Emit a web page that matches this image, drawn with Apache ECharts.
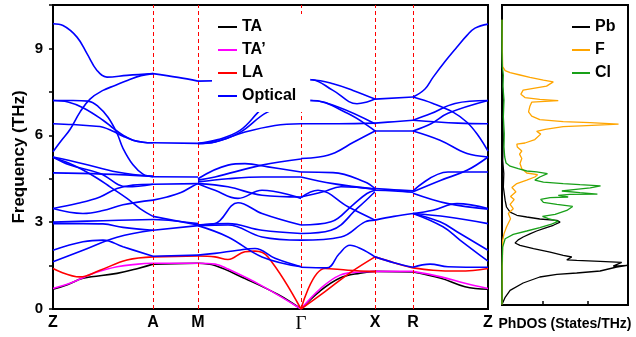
<!DOCTYPE html>
<html><head><meta charset="utf-8">
<script src="https://cdn.jsdelivr.net/npm/echarts@6/dist/echarts.min.js"></script>
<style>html,body{margin:0;padding:0;background:#fff}#c{width:636px;height:337px}</style>
</head><body><div id="c"></div>
<script>
// high-symmetry path positions and labels
const kTicks = [0, 100, 145, 248, 322, 360, 435];
const kLabels = ['Z', 'A', 'M', 'Γ', 'X', 'R', 'Z'];
const freqMax = 10.5;
const dosTicks = [0.9, 1.9];

// acoustic branches along full path [k, THz]
const taBand = [[0,0.68],[15,0.85],[30,1.06],[64,1.23],[85,1.4],[100,1.55],[145,1.58],[162,1.5],[192,1.05],[225,0.5],[248,0],[267,0.62],[287,1.07],[307,1.24],[322,1.3],[360,1.28],[388,1.06],[412,0.77],[435,0.68]];
const ta2Band = [[0,0.71],[17,0.89],[30,1.08],[40,1.23],[64,1.46],[85,1.55],[100,1.58],[145,1.58],[162,1.55],[175,1.38],[209,0.8],[248,0],[267,0.69],[287,1.17],[307,1.28],[322,1.3],[360,1.3],[388,1.11],[412,0.89],[435,0.71]];
const laBand = [[0,1.4],[27,1.11],[47,1.34],[74,1.69],[100,1.8],[145,1.83],[162,1.8],[175,1.71],[192,1.98],[202,2.0],[215,1.8],[248,0],[272,1.4],[295,1.34],[322,1.29]];
const laBand2 = [[248,0],[272,0.6],[297,1.25],[322,1.8],[341,1.6],[360,1.42],[380,1.34],[404,1.31],[420,1.33],[435,1.4]];

// optical branches, per path segment
const opticalZA = [
 [[0,9.85],[10,9.79],[24,9.39],[34,8.82],[44,8.24],[54,8.01],[74,8.07],[100,8.13]],
 [[0,5.43],[8,5.8],[17,6.2],[27,6.8],[37,7.25],[50,7.55],[62,7.72],[75,7.9],[88,8.06],[100,8.13]],
 [[0,7.2],[20,7.2],[35,7.18],[45,7.0],[55,6.62],[64,6.07],[70,5.55],[80,4.98],[90,4.66],[100,4.57]],
 [[0,7.2],[15,7.15],[30,6.95],[50,6.52],[60,6.25],[70,6.0],[80,5.83],[90,5.76],[100,5.74]],
 [[0,6.4],[20,6.37],[40,6.32],[50,6.28],[60,6.14],[70,5.97],[80,5.83],[90,5.76],[100,5.74]],
 [[0,5.25],[30,5.02],[64,4.73],[100,4.57]],
 [[0,5.25],[17,4.97],[47,4.68],[74,4.22],[100,4.31]],
 [[0,4.7],[50,4.66],[100,4.59]],
 [[0,5.23],[15,5.05],[30,4.8],[45,4.5],[57,4.22],[74,3.82],[87,3.47],[100,3.2]],
 [[0,3.47],[25,3.65],[47,3.87],[64,4.16],[80,4.28],[100,4.31]],
 [[0,3.47],[30,3.3],[50,3.4],[70,3.6],[100,3.76]],
 [[0,3.0],[50,3.05],[100,3.09]],
 [[0,2.95],[30,2.95],[50,2.94],[70,2.82],[100,2.72]],
 [[0,1.63],[30,2.03],[64,2.48],[100,2.72]],
 [[0,2.03],[30,2.32],[50,2.38],[70,2.15],[100,1.82]]
];
const opticalAM = [
 [[100,8.13],[125,8.0],[145,7.87]],
 [[100,5.74],[145,5.72]],
 [[100,4.57],[145,4.56]],
 [[100,4.31],[145,4.33]],
 [[100,3.76],[114,3.87],[128,4.02],[140,4.25],[145,4.33]],
 [[100,3.2],[145,2.9]],
 [[100,3.09],[120,3.05],[145,2.95]],
 [[100,2.72],[145,2.88]],
 [[100,1.82],[145,1.86]]
];
const opticalMG = [
 [[145,7.87],[190,7.9],[248,7.93]],
 [[145,5.72],[165,5.85],[187,6.17],[205,6.79],[225,7.5],[248,7.93]],
 [[145,5.72],[162,5.77],[187,6.1],[214,6.79],[248,7.2]],
 [[145,5.71],[162,5.77],[192,6.11],[222,6.34],[248,6.4]],
 [[145,4.5],[175,4.97],[192,5.02],[215,4.91],[248,4.73]],
 [[145,4.45],[162,4.56],[209,4.97],[248,5.18]],
 [[145,4.39],[175,4.5],[209,4.56],[248,4.56]],
 [[145,4.33],[162,4.1],[185,3.82],[209,4.1],[248,3.82]],
 [[145,4.33],[175,4.22],[209,3.93],[248,3.87]],
 [[145,2.9],[162,2.95],[185,3.67],[209,3.3],[248,2.9]],
 [[145,2.9],[175,2.95],[209,2.72],[248,2.61]],
 [[145,2.88],[175,2.9],[209,2.49],[248,2.38]],
 [[145,2.88],[175,2.49],[209,1.8],[248,1.46]],
 [[145,1.86],[162,1.92],[185,2.03],[202,2.09],[222,1.75],[248,1.46]]
];
const opticalGX = [
 [[248,7.93],[259,7.92],[280,7.55],[304,7.09],[314,7.15],[322,7.25]],
 [[248,7.93],[259,7.92],[280,7.78],[300,7.55],[322,7.25]],
 [[248,7.2],[258,7.2],[285,6.98],[322,6.4]],
 [[248,7.2],[258,7.2],[295,6.75],[322,6.15]],
 [[248,6.4],[285,6.4],[322,6.42]],
 [[248,5.2],[266,5.25],[282,5.4],[300,5.75],[322,6.15]],
 [[248,4.73],[280,4.71],[312,4.39],[322,4.16]],
 [[248,4.56],[280,4.33],[322,4.14]],
 [[248,3.87],[270,4.05],[288,4.22],[322,4.14]],
 [[248,3.85],[265,4.1],[295,3.53],[322,3.07]],
 [[248,2.9],[278,3.01],[300,3.6],[314,3.99],[322,4.1]],
 [[248,2.61],[278,2.72],[305,3.5],[322,4.05]],
 [[248,2.38],[288,2.49],[312,3.01],[322,3.07]],
 [[248,1.44],[274,1.42],[286,1.9],[297,2.2],[308,2.08],[322,1.8]]
];
const opticalXR = [
 [[322,7.25],[360,7.32]],
 [[322,6.42],[341,6.47],[360,6.52]],
 [[322,6.15],[360,6.15]],
 [[322,4.16],[341,4.12],[360,4.08]],
 [[322,4.1],[341,4.08],[360,4.03]],
 [[322,3.07],[341,3.2],[360,3.3]],
 [[322,1.8],[341,1.6],[360,1.44]]
];
const opticalRZ = [
 [[360,7.32],[372,7.6],[380,8.0],[392,8.55],[404,9.05],[414,9.45],[422,9.7],[435,9.84]],
 [[360,7.32],[380,7.1],[400,6.8],[414,6.45],[425,6.0],[435,5.45]],
 [[360,6.52],[378,6.75],[402,7.1],[435,7.2]],
 [[360,6.15],[378,6.4],[395,6.76],[435,7.2]],
 [[360,6.52],[405,6.42],[435,6.4]],
 [[360,6.15],[387,5.83],[414,5.37],[435,5.25]],
 [[360,4.08],[395,4.73],[435,4.73]],
 [[360,4.05],[388,4.45],[414,4.79],[435,5.25]],
 [[360,4.0],[395,3.64],[435,3.45]],
 [[360,3.3],[380,3.41],[404,3.64],[435,3.47]],
 [[360,3.3],[395,3.18],[435,2.95]],
 [[360,3.3],[387,3.01],[404,2.67],[435,2.03]],
 [[360,3.3],[390,2.84],[407,2.38],[435,1.65]],
 [[360,1.44],[377,1.55],[395,1.46],[435,1.44]]
];

// phonon DOS [states/THz, THz]
const pbDos = [[0,0.02],[0.07,0.27],[0.18,0.51],[0.47,0.77],[0.84,0.98],[1.22,1.07],[1.66,1.12],[2.18,1.19],[2.55,1.33],[2.79,1.39],[2.47,1.36],[2.66,1.49],[2.18,1.53],[1.66,1.56],[1.44,1.58],[1.55,1.68],[1.36,1.74],[1.07,1.85],[0.7,1.97],[0.4,2.09],[0.29,2.17],[0.36,2.28],[0.47,2.38],[0.62,2.49],[0.77,2.59],[0.92,2.67],[1.14,2.79],[1.29,2.9],[1.22,2.96],[0.84,3.01],[0.55,3.08],[0.33,3.14],[0.18,3.25],[0.1,3.43],[0.07,3.66],[0.03,4.13],[0.04,4.6],[0.015,5.07],[0.03,5.77],[0.015,6.59],[0.03,7.17],[0.007,7.75],[0,8.34],[0,9.98]];
const fDos = [[0,0.02],[0.007,1.33],[0.015,2.26],[0.044,2.49],[0.1,2.73],[0.19,3.02],[0.14,3.2],[0.25,3.37],[0.18,3.52],[0.27,3.69],[0.19,3.8],[0.31,3.96],[0.22,4.11],[0.33,4.25],[0.55,4.37],[0.73,4.48],[0.79,4.56],[0.55,4.62],[0.44,4.77],[0.4,4.95],[0.44,5.13],[0.39,5.28],[0.44,5.39],[0.34,5.53],[0.33,5.63],[0.51,5.67],[0.73,5.79],[0.86,5.98],[0.77,6.08],[0.96,6.15],[1.36,6.24],[1.88,6.28],[2.59,6.33],[1.96,6.38],[1.36,6.42],[0.84,6.49],[0.66,6.61],[0.59,6.76],[0.62,6.96],[0.66,7.1],[1.25,7.15],[0.84,7.2],[0.51,7.26],[0.42,7.38],[0.47,7.52],[0.73,7.59],[0.99,7.66],[1.14,7.81],[0.92,7.87],[0.62,7.97],[0.4,8.05],[0.18,8.13],[0.07,8.2],[0.015,8.34],[0.007,8.92],[0,9.98]];
const clDos = [[0,0.02],[0,1.33],[0.015,2.03],[0.07,2.32],[0.25,2.47],[0.55,2.59],[0.84,2.71],[1.1,2.83],[1.25,2.93],[1.03,3.02],[0.9,3.1],[1.18,3.17],[1.44,3.31],[1.57,3.45],[1.22,3.52],[0.92,3.59],[0.86,3.7],[1.07,3.76],[1.47,3.78],[1.25,3.84],[1.51,3.87],[2.12,3.88],[1.73,3.93],[1.33,3.99],[1.59,4.04],[1.96,4.1],[2.19,4.17],[1.73,4.21],[1.36,4.25],[0.92,4.3],[0.73,4.37],[0.84,4.48],[1.01,4.6],[0.77,4.66],[0.55,4.69],[0.36,4.77],[0.18,4.86],[0.09,4.97],[0.06,5.18],[0.044,5.53],[0.05,6.0],[0.03,6.59],[0.044,7.17],[0.022,7.64],[0.03,8.05],[0.007,8.34],[0,8.92],[0,9.98]];

const FONT = 'Liberation Sans';
const series = [];

// dashed high-symmetry markers
series.push({
  type: 'line', name: '_hs', xAxisIndex: 0, yAxisIndex: 0, data: [], z: 1, silent: true,
  markLine: {
    silent: true, symbol: ['none', 'none'], label: {show: false}, animation: false,
    lineStyle: {color: '#ff0000', type: [4, 3], width: 1},
    data: kTicks.slice(1, -1).map(v => ({xAxis: v}))
  }
});

function splitAtTicks(pts) {
  const out = []; let cur = [];
  pts.forEach((p, i) => {
    cur.push(p);
    if (i > 0 && i < pts.length - 1 && kTicks.includes(p[0])) { out.push(cur); cur = [p]; }
  });
  out.push(cur);
  return out;
}
function band(name, pts, color, z) {
  return {type: 'line', name, data: pts, xAxisIndex: 0, yAxisIndex: 0, symbol: 'none', showSymbol: false,
    smooth: 0.4, lineStyle: {color, width: 1.6}, itemStyle: {color}, z, silent: true, animation: false};
}
splitAtTicks(taBand).forEach(s => series.push(band('TA', s, '#000000', 3)));
splitAtTicks(ta2Band).forEach(s => series.push(band('TA’', s, '#ff00ff', 4)));
splitAtTicks(laBand).forEach(s => series.push(band('LA', s, '#ff0000', 5)));
splitAtTicks(laBand2).forEach(s => series.push(band('LA', s, '#ff0000', 5)));
[opticalZA, opticalAM, opticalMG, opticalGX, opticalXR, opticalRZ].forEach(seg =>
  seg.forEach(s => series.push(band('Optical', s, '#0000ff', 6))));

function dos(name, pts, color) {
  return {type: 'line', name, data: pts, xAxisIndex: 1, yAxisIndex: 1, symbol: 'none', showSymbol: false,
    lineStyle: {color, width: 1.3}, itemStyle: {color}, z: 3, silent: true, animation: false};
}
series.push(dos('Pb', pbDos, '#000000'));
series.push(dos('F', fDos, '#ffa500'));
series.push(dos('Cl', clDos, '#18a018'));

const boldText = {fontFamily: FONT, fontWeight: 'bold', color: '#000'};
const option = {
  animation: false,
  backgroundColor: '#fff',
  grid: [
    {left: 53, right: 148, top: 5, bottom: 28, show: true, borderColor: '#000', borderWidth: 2},
    {left: 502, right: 8, top: 5, bottom: 32, show: true, borderColor: '#000', borderWidth: 2}
  ],
  xAxis: [
    {gridIndex: 0, type: 'value', min: 0, max: 435,
     axisLine: {lineStyle: {color: '#000', width: 2}}, axisTick: {show: false}, splitLine: {show: false},
     axisLabel: Object.assign({customValues: kTicks, margin: 6, fontSize: 16,
       formatter: v => { const l = kLabels[kTicks.indexOf(v)]; return l === 'Γ' ? '{g|Γ}' : l; },
       rich: {g: {fontFamily: 'Liberation Serif', fontSize: 19, fontWeight: 'normal', color: '#000'}}}, boldText)},
    {gridIndex: 1, type: 'value', min: 0, max: 2.8,
     axisLine: {lineStyle: {color: '#000', width: 2}},
     axisTick: {inside: true, length: 4, customValues: dosTicks, lineStyle: {color: '#000', width: 1.5}},
     axisLabel: {show: false}, splitLine: {show: false},
     name: 'PhDOS (States/THz)', nameLocation: 'middle', nameGap: 12, nameMoveOverlap: false,
     nameTextStyle: Object.assign({fontSize: 14}, boldText)}
  ],
  yAxis: [
    {gridIndex: 0, type: 'value', min: 0, max: freqMax, interval: 1.5,
     axisLine: {show: true, lineStyle: {color: '#000', width: 2}},
     axisTick: {show: true, inside: false, length: 4, lineStyle: {color: '#000', width: 1.5}},
     splitLine: {show: false},
     axisLabel: Object.assign({margin: 10, fontSize: 15,
       formatter: v => (Math.abs(v % 3) < 1e-6 && v < 10) ? String(v) : ''}, boldText),
     name: 'Frequency (THz)', nameLocation: 'middle', nameGap: 25, nameMoveOverlap: false,
     nameTextStyle: Object.assign({fontSize: 17}, boldText)},
    {gridIndex: 1, type: 'value', min: 0, max: freqMax,
     axisLine: {show: true, lineStyle: {color: '#000', width: 2}},
     axisTick: {show: false}, axisLabel: {show: false}, splitLine: {show: false}}
  ],
  legend: [
    {orient: 'vertical', left: 212, top: 14, padding: [5, 14, 8, 6], backgroundColor: '#fff',
     icon: 'rect', itemWidth: 19, itemHeight: 2, itemGap: 7, selectedMode: false, z: 20,
     textStyle: Object.assign({fontSize: 16, lineHeight: 16}, boldText),
     data: ['TA', 'TA’', 'LA', 'Optical']},
    {orient: 'vertical', left: 566, top: 14, padding: [5, 5, 5, 6],
     icon: 'rect', itemWidth: 18, itemHeight: 2, itemGap: 7, selectedMode: false, z: 20,
     textStyle: Object.assign({fontSize: 16, lineHeight: 16}, boldText),
     data: ['Pb', 'F', 'Cl']}
  ],
  series
};
const chart = echarts.init(document.getElementById('c'), null, {renderer: 'canvas'});
chart.setOption(option);
</script>
</body></html>
